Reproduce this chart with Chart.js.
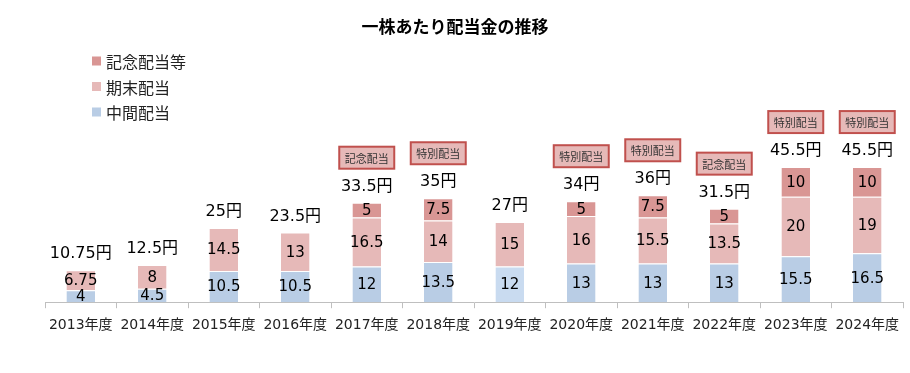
<!DOCTYPE html>
<html>
<head>
<meta charset="utf-8">
<script src="https://cdn.jsdelivr.net/npm/chart.js@4"></script>
<style>
  html, body { margin: 0; padding: 0; background: #fff; }
  #wrap { width: 910px; height: 373px; }
</style>
</head>
<body>
<div id="wrap"><canvas id="dividendChart" width="910" height="373"></canvas></div>
<script>
const years = ['2013年度', '2014年度', '2015年度', '2016年度', '2017年度', '2018年度',
               '2019年度', '2020年度', '2021年度', '2022年度', '2023年度', '2024年度'];
const interim = [4, 4.5, 10.5, 10.5, 12, 13.5, 12, 13, 13, 13, 15.5, 16.5];
const yearEnd = [6.75, 8, 14.5, 13, 16.5, 14, 15, 16, 15.5, 13.5, 20, 19];
const special = [null, null, null, null, 5, 7.5, null, 5, 7.5, 5, 10, 10];
const badges = [null, null, null, null, '記念配当', '特別配当', null, '特別配当', '特別配当', '記念配当', '特別配当', '特別配当'];
const seriesNames = ['中間配当', '期末配当', '記念配当等'];

const totals = years.map((_, i) => interim[i] + yearEnd[i] + (special[i] || 0));

const BLUE = '#b9cde5', BLUE_LIGHT = '#c9dbf0', PINK = '#e6b9b8', RED = '#d99694';
const numFont = '"DejaVu Sans", "Noto Sans CJK JP", sans-serif';

// 2019 bar is drawn a bit lighter in the original
const blueColors = years.map((y, i) => i === 6 ? BLUE_LIGHT : BLUE);

const labelPlugin = {
  id: 'labels',
  afterDatasetsDraw(chart) {
    const ctx = chart.ctx;
    ctx.save();
    ctx.textAlign = 'center';
    ctx.textBaseline = 'middle';
    ctx.fillStyle = '#000';
    // segment values
    ctx.font = '15px ' + numFont;
    chart.data.datasets.forEach((ds, di) => {
      const meta = chart.getDatasetMeta(di);
      meta.data.forEach((bar, i) => {
        const v = ds.data[i];
        if (v == null) return;
        const { y, base } = bar.getProps(['y', 'base'], true);
        ctx.fillText(String(v), bar.x, (y + base) / 2 + 1);
      });
    });
    // totals and badges
    const yScale = chart.scales.y;
    const meta0 = chart.getDatasetMeta(0);
    totals.forEach((t, i) => {
      const x = meta0.data[i].x;
      const top = yScale.getPixelForValue(t);
      ctx.font = '16px ' + numFont;
      ctx.fillStyle = '#000';
      ctx.fillText(t + '円', x, top - 16);
      if (badges[i]) {
        const w = 55, h = 22;
        const by = top - 34 - h;
        ctx.fillStyle = PINK;
        ctx.strokeStyle = '#c0504d';
        ctx.lineWidth = 2;
        ctx.fillRect(x - w / 2, by, w, h);
        ctx.strokeRect(x - w / 2, by, w, h);
        ctx.fillStyle = '#333';
        ctx.font = '11px "Noto Sans CJK JP", sans-serif';
        ctx.fillText(badges[i], x, by + h / 2 + 1);
      }
    });
    ctx.restore();
  },
  afterDraw(chart) {
    const ctx = chart.ctx;
    ctx.save();
    // title
    ctx.fillStyle = '#000';
    ctx.textAlign = 'center';
    ctx.textBaseline = 'middle';
    ctx.font = 'bold 17px "Noto Sans CJK JP", sans-serif';
    ctx.fillText('一株あたり配当金の推移', 455, 27);
    // legend (reverse of stack order)
    const items = [[seriesNames[2], RED], [seriesNames[1], PINK], [seriesNames[0], BLUE]];
    ctx.textAlign = 'left';
    ctx.font = '16px "Noto Sans CJK JP", sans-serif';
    items.forEach(([name, col], k) => {
      const cy = 61 + k * 25.5;
      ctx.fillStyle = col;
      ctx.fillRect(92, cy - 4.5, 9, 9);
      ctx.fillStyle = '#222';
      ctx.fillText(name, 106, cy + 1);
    });
    ctx.restore();
  }
};

const barStyle = {
  borderColor: '#ffffff',
  borderWidth: { top: 1, bottom: 0, left: 0, right: 0 },
  borderSkipped: false,
  barPercentage: 0.4,
  categoryPercentage: 1
};

new Chart(document.getElementById('dividendChart'), {
  type: 'bar',
  data: {
    labels: years,
    datasets: [
      { label: seriesNames[0], data: interim, backgroundColor: blueColors, ...barStyle },
      { label: seriesNames[1], data: yearEnd, backgroundColor: PINK, ...barStyle },
      { label: seriesNames[2], data: special, backgroundColor: RED, ...barStyle }
    ]
  },
  options: {
    responsive: false,
    animation: false,
    layout: { padding: { top: 124, left: 45, right: 7, bottom: 30 } },
    scales: {
      x: {
        stacked: true,
        grid: { drawOnChartArea: false, tickLength: 6, color: '#bfbfbf' },
        border: { color: '#bfbfbf' },
        ticks: { color: '#222', font: { size: 14, family: numFont }, padding: 9, maxRotation: 0 }
      },
      y: {
        stacked: true,
        display: false,
        min: 0,
        max: 60
      }
    },
    plugins: {
      legend: { display: false },
      title: { display: false },
      tooltip: { enabled: false }
    }
  },
  plugins: [labelPlugin]
});
</script>
</body>
</html>
